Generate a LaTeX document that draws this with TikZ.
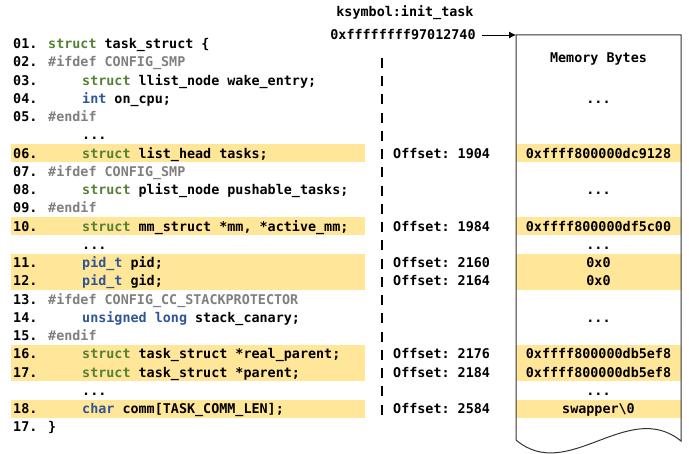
\documentclass[tikz,border=0pt]{standalone}
\usepackage{fontspec}
\setmonofont{DejaVu Sans Mono}
\usetikzlibrary{arrows.meta, positioning, calc}

\definecolor{hlyellow}{HTML}{FFE699}
\definecolor{kwgreen}{HTML}{548235}
\definecolor{kwblue}{HTML}{2F5597}
\definecolor{ppgray}{HTML}{7F7F7F}

% keyword colouring and column helpers
\newcommand{\kwg}[1]{\textcolor{kwgreen}{#1}}
\newcommand{\kwb}[1]{\textcolor{kwblue}{#1}}
\newcommand{\ppd}[1]{\textcolor{ppgray}{#1}}
\newcommand{\lno}[1]{\makebox[35pt][l]{#1}}
\newcommand{\ind}{\hspace{34pt}}

\begin{document}
\begin{tikzpicture}[x=1pt, y=-1pt,
        font=\ttfamily\bfseries\fontsize{13.4}{16}\selectfont,
        codeline/.style={anchor=west, inner sep=0pt, text height=12pt, text depth=2.4pt},
        offset/.style={anchor=west, inner sep=0pt, text height=12pt, text depth=2.4pt},
        memcell/.style={inner sep=0pt, text height=12pt, text depth=2.4pt},
        hlband/.style={fill=hlyellow, draw=none}]

      \useasboundingbox (0,0) rectangle (689,454);

      % 1. Highlighted rows (code side and memory side)
      \fill[hlband] (11,144.3) rectangle (365,162.5);
      \fill[hlband] (11,217.3) rectangle (365,235.5);
      \fill[hlband] (11,253.8) rectangle (365,290.2);
      \fill[hlband] (11,345.0) rectangle (365,381.4);
      \fill[hlband] (11,399.7) rectangle (365,417.9);

      \fill[hlband] (516,144.3) rectangle (681,162.5);
      \fill[hlband] (516,217.3) rectangle (681,235.5);
      \fill[hlband] (516,253.8) rectangle (681,290.2);
      \fill[hlband] (516,345.0) rectangle (681,381.4);
      \fill[hlband] (516,399.7) rectangle (681,417.9);

      % 2. The struct definition
      \node [codeline] (l01) at (13,44.0) {\lno{01.}\kwg{struct} task\_struct \{};
      \node [codeline] (l02) at (13,62.2) {\lno{02.}\ppd{\#ifdef CONFIG\_SMP}};
      \node [codeline] (l03) at (13,80.5) {\lno{03.}\ind\kwg{struct} llist\_node wake\_entry;};
      \node [codeline] (l04) at (13,98.7) {\lno{04.}\ind\kwb{int} on\_cpu;};
      \node [codeline] (l05) at (13,117.0) {\lno{05.}\ppd{\#endif}};
      \node [codeline] (g1) at (13,135.2) {\lno{}\ind...};
      \node [codeline] (l06) at (13,153.4) {\lno{06.}\ind\kwg{struct} list\_head tasks;};
      \node [codeline] (l07) at (13,171.7) {\lno{07.}\ppd{\#ifdef CONFIG\_SMP}};
      \node [codeline] (l08) at (13,189.9) {\lno{08.}\ind\kwg{struct} plist\_node pushable\_tasks;};
      \node [codeline] (l09) at (13,208.2) {\lno{09.}\ppd{\#endif}};
      \node [codeline] (l10) at (13,226.4) {\lno{10.}\ind\kwg{struct} mm\_struct *mm, *active\_mm;};
      \node [codeline] (g2) at (13,244.6) {\lno{}\ind...};
      \node [codeline] (l11) at (13,262.9) {\lno{11.}\ind\kwb{pid\_t} pid;};
      \node [codeline] (l12) at (13,281.1) {\lno{12.}\ind\kwb{pid\_t} gid;};
      \node [codeline] (l13) at (13,299.4) {\lno{13.}\ppd{\#ifdef CONFIG\_CC\_STACKPROTECTOR}};
      \node [codeline] (l14) at (13,317.6) {\lno{14.}\ind\kwb{unsigned long} stack\_canary;};
      \node [codeline] (l15) at (13,335.8) {\lno{15.}\ppd{\#endif}};
      \node [codeline] (l16) at (13,354.1) {\lno{16.}\ind\kwg{struct} task\_struct *real\_parent;};
      \node [codeline] (l17) at (13,372.3) {\lno{17.}\ind\kwg{struct} task\_struct *parent;};
      \node [codeline] (g3) at (13,390.6) {\lno{}\ind...};
      \node [codeline] (l18) at (13,408.8) {\lno{18.}\ind\kwb{char} comm[TASK\_COMM\_LEN];};
      \node [codeline] (lend) at (13,427.0) {\lno{17.}\}};

      % 3. Separator and field offsets
      \coordinate (septop) at (382,58);
      \coordinate (sepbot) at (382,415);
      \draw [line width=2.2pt, dash pattern=on 10pt off 8.24pt] (septop) -- (sepbot);

      \node [offset] (o06) at (393,153.4) {Offset: 1904};
      \node [offset] (o10) at (393,226.4) {Offset: 1984};
      \node [offset] (o11) at (393,262.9) {Offset: 2160};
      \node [offset] (o12) at (393,281.1) {Offset: 2164};
      \node [offset] (o16) at (393,354.1) {Offset: 2176};
      \node [offset] (o17) at (393,372.3) {Offset: 2184};
      \node [offset] (o18) at (393,408.8) {Offset: 2584};

      % 4. Symbol address pointing at the memory block
      \node (sym) at (405,13) {ksymbol:init\_task};
      \node (addr) at (403,35) {0xffffffff97012740};
      \coordinate (memtop) at (516,35);
      \draw [-{Latex[length=7pt, width=7pt]}, line width=0.8pt] ([xshift=3pt]addr.east) -- (memtop);

      % 5. Memory block with torn bottom edge
      \coordinate (membl) at (516,440);
      \coordinate (membr) at (681,441);
      \draw [black!80, line width=1pt] (membl) -- (memtop) -- (681,35) -- (membr)
            .. controls (628,398) and (568,484) .. (membl);

      \node [memcell] (mtitle) at (598.5,58) {Memory Bytes};
      \node [memcell] (md1) at (598.5,98.7) {...};
      \node [memcell] (m06) at (598.5,153.4) {0xffff800000dc9128};
      \node [memcell] (md2) at (598.5,189.9) {...};
      \node [memcell] (m10) at (598.5,226.4) {0xffff800000df5c00};
      \node [memcell] (md3) at (598.5,244.6) {...};
      \node [memcell] (m11) at (598.5,262.9) {0x0};
      \node [memcell] (m12) at (598.5,281.1) {0x0};
      \node [memcell] (md4) at (598.5,317.6) {...};
      \node [memcell] (m16) at (598.5,354.1) {0xffff800000db5ef8};
      \node [memcell] (m17) at (598.5,372.3) {0xffff800000db5ef8};
      \node [memcell] (md5) at (598.5,390.6) {...};
      \node [memcell] (m18) at (598.5,408.8) {swapper\textbackslash 0};
    \end{tikzpicture}
\end{document}
